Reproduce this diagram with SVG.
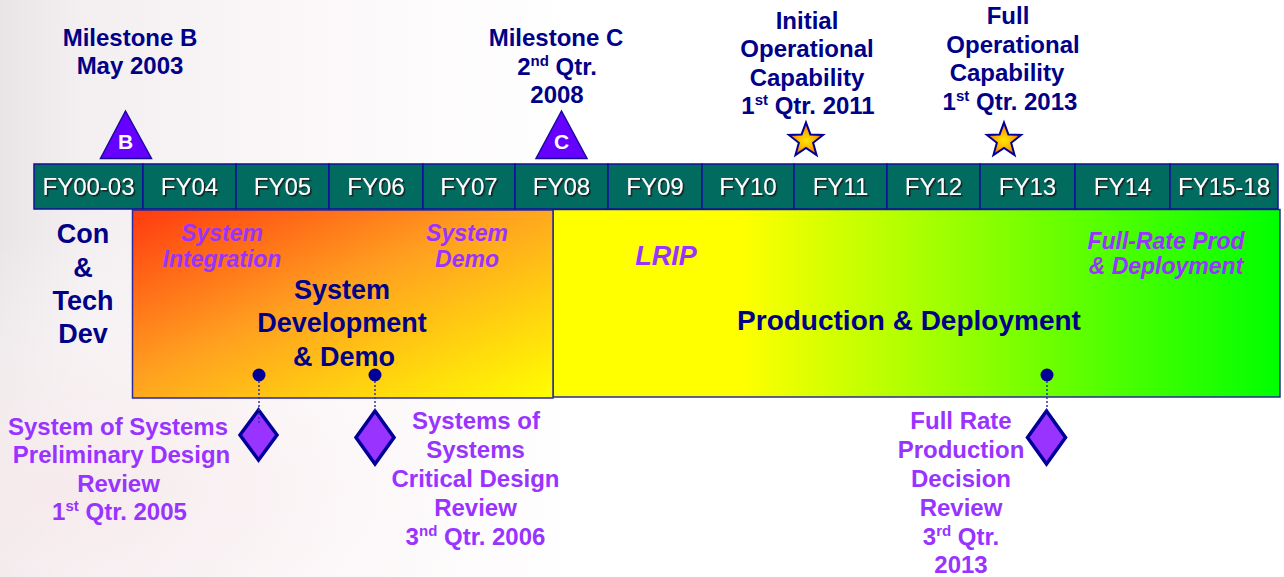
<svg xmlns="http://www.w3.org/2000/svg" width="1284" height="577" viewBox="0 0 1284 577">
<defs>
  <linearGradient id="bg" x1="0" y1="0" x2="1" y2="0">
    <stop offset="0" stop-color="#e9e5e6"/>
    <stop offset="0.06" stop-color="#f3eeef"/>
    <stop offset="0.25" stop-color="#fcf8f9"/>
    <stop offset="0.45" stop-color="#ffffff"/>
  </linearGradient>
  <radialGradient id="bgpink" cx="0.05" cy="0.85" r="0.45">
    <stop offset="0" stop-color="#f7e9ec" stop-opacity="0.9"/>
    <stop offset="1" stop-color="#ffffff" stop-opacity="0"/>
  </radialGradient>
  <linearGradient id="sdd" x1="0" y1="0" x2="1" y2="1">
    <stop offset="0" stop-color="#ff3a10"/>
    <stop offset="0.45" stop-color="#ffa020"/>
    <stop offset="1" stop-color="#ffff00"/>
  </linearGradient>
  <linearGradient id="pd" x1="0" y1="0" x2="1" y2="0">
    <stop offset="0" stop-color="#ffff00"/>
    <stop offset="0.26" stop-color="#ffff00"/>
    <stop offset="1" stop-color="#00ff00"/>
  </linearGradient>
  <radialGradient id="star" cx="0.5" cy="0.55" r="0.5">
    <stop offset="0" stop-color="#ffe800"/>
    <stop offset="0.6" stop-color="#ffaa00"/>
    <stop offset="1" stop-color="#ff5a00"/>
  </radialGradient>
  <filter id="shadow" x="-10%" y="-20%" width="130%" height="150%">
    <feDropShadow dx="1.5" dy="1.5" stdDeviation="0.4" flood-color="#1a1a1a" flood-opacity="1"/>
  </filter>
  <path id="starShape" d="M0,-18 L4.408,-6.068 L17.119,-5.562 L7.133,2.318 L10.580,14.562 L0,7.5 L-10.580,14.562 L-7.133,2.318 L-17.119,-5.562 L-4.408,-6.068 Z"/>
</defs>
<style>
  .t { font-family: "Liberation Sans", Arial, sans-serif; font-weight: bold; text-anchor: middle; }
  .navy { fill: #000088; }
  .purp { fill: #9933ff; }
  .it { font-style: italic; }
  .f24 { font-size: 24px; }
  .f23 { font-size: 23px; }
  .cell { fill: #006b5e; stroke: #10109a; stroke-width: 1.5; }
  .fy { font-family: "Liberation Sans", Arial, sans-serif; font-size: 24px; fill: #ffffff; text-anchor: middle; filter: url(#shadow); }
  .sup { font-size: 15px; }
  .tri { fill: #6600ff; stroke: #1a0aa0; stroke-width: 1.5; }
  .trit { font-family: "Liberation Sans", Arial, sans-serif; font-weight: bold; font-size: 21px; fill: #ffffff; text-anchor: middle; }
  .stat { fill: url(#star); stroke: #000099; stroke-width: 2; stroke-linejoin: miter; }
  .dia { fill: #9933ff; stroke: #000099; stroke-width: 3.5; }
  .dot { fill: #000099; }
  .dotted { stroke: #3333aa; stroke-width: 1.5; stroke-dasharray: 2 2; fill: none; }
</style>

<rect x="0" y="0" width="1284" height="577" fill="url(#bg)"/>
<rect x="0" y="0" width="1284" height="577" fill="url(#bgpink)"/>

<g id="phase-production">
  <rect x="553" y="209.5" width="727" height="187.5" fill="url(#pd)" stroke="#2a2a9a" stroke-width="1.5"/>
  <text class="t navy" x="909" y="330" font-size="28">Production &amp; Deployment</text>
  <text class="t purp it" x="666" y="265" font-size="27">LRIP</text>
  <text class="t purp it f23" x="1166" y="248.5">Full-Rate Prod</text>
  <text class="t purp it f23" x="1166" y="273.5">&amp; Deployment</text>
</g>

<g id="phase-sdd">
  <rect x="132.5" y="210" width="420.5" height="188" fill="url(#sdd)" stroke="#2a2a9a" stroke-width="1.5"/>
  <text class="t navy" x="342" y="299" font-size="27">System</text>
  <text class="t navy" x="342" y="332" font-size="27">Development</text>
  <text class="t navy" x="344" y="365.5" font-size="27">&amp; Demo</text>
  <text class="t purp it f23" x="222" y="241">System</text>
  <text class="t purp it f23" x="222" y="266.5">Integration</text>
  <text class="t purp it f23" x="467" y="241">System</text>
  <text class="t purp it f23" x="467" y="266.5">Demo</text>
</g>

<g id="phase-concept">
  <text class="t navy" x="83" y="243" font-size="27">Con</text>
  <text class="t navy" x="83" y="276.5" font-size="27">&amp;</text>
  <text class="t navy" x="83" y="310" font-size="27">Tech</text>
  <text class="t navy" x="83" y="343" font-size="27">Dev</text>
</g>

<g id="timeline">
  <rect class="cell" x="34" y="164" width="109" height="45"/>
  <rect class="cell" x="143" y="164" width="93" height="45"/>
  <rect class="cell" x="236" y="164" width="93" height="45"/>
  <rect class="cell" x="329" y="164" width="94" height="45"/>
  <rect class="cell" x="423" y="164" width="92" height="45"/>
  <rect class="cell" x="515" y="164" width="93" height="45"/>
  <rect class="cell" x="608" y="164" width="94" height="45"/>
  <rect class="cell" x="702" y="164" width="92" height="45"/>
  <rect class="cell" x="794" y="164" width="93" height="45"/>
  <rect class="cell" x="887" y="164" width="93" height="45"/>
  <rect class="cell" x="980" y="164" width="95" height="45"/>
  <rect class="cell" x="1075" y="164" width="95" height="45"/>
  <rect class="cell" x="1170" y="164" width="108" height="45"/>
  <text class="fy" x="88.5" y="195">FY00-03</text>
  <text class="fy" x="189.5" y="195">FY04</text>
  <text class="fy" x="282.5" y="195">FY05</text>
  <text class="fy" x="376" y="195">FY06</text>
  <text class="fy" x="469" y="195">FY07</text>
  <text class="fy" x="561.5" y="195">FY08</text>
  <text class="fy" x="655" y="195">FY09</text>
  <text class="fy" x="748" y="195">FY10</text>
  <text class="fy" x="840.5" y="195">FY11</text>
  <text class="fy" x="933.5" y="195">FY12</text>
  <text class="fy" x="1027.5" y="195">FY13</text>
  <text class="fy" x="1122.5" y="195">FY14</text>
  <text class="fy" x="1224" y="195">FY15-18</text>
</g>

<g id="milestone-b">
  <polygon class="tri" points="125.5,111 100.5,158.5 151.5,158.5"/>
  <text class="trit" x="125.5" y="148.5">B</text>
  <text class="t navy f24" x="130" y="45.5">Milestone B</text>
  <text class="t navy f24" x="130" y="74">May 2003</text>
</g>

<g id="milestone-c">
  <polygon class="tri" points="561.5,111 536,158.5 587,158.5"/>
  <text class="trit" x="561.5" y="148.5">C</text>
  <text class="t navy f24" x="556" y="45.5">Milestone C</text>
  <text class="t navy f24" x="557" y="74.5">2<tspan class="sup" dy="-9">nd</tspan><tspan dy="9"> Qtr.</tspan></text>
  <text class="t navy f24" x="557" y="103">2008</text>
</g>

<g id="ioc">
  <use href="#starShape" class="stat" x="806" y="140.5"/>
  <text class="t navy f24" x="807" y="28.5">Initial</text>
  <text class="t navy f24" x="807" y="57">Operational</text>
  <text class="t navy f24" x="807" y="85.5">Capability</text>
  <text class="t navy f24" x="808" y="114">1<tspan class="sup" dy="-9">st</tspan><tspan dy="9"> Qtr. 2011</tspan></text>
</g>

<g id="foc">
  <use href="#starShape" class="stat" x="1004" y="140.5"/>
  <text class="t navy f24" x="1008" y="24">Full</text>
  <text class="t navy f24" x="1013" y="52.5">Operational</text>
  <text class="t navy f24" x="1007" y="81">Capability</text>
  <text class="t navy f24" x="1010" y="110">1<tspan class="sup" dy="-9">st</tspan><tspan dy="9"> Qtr. 2013</tspan></text>
</g>

<g id="pdr">
  <circle class="dot" cx="259" cy="375" r="6.5"/>
  <polygon class="dia" points="258.5,410 277,435 258.5,460 240,435"/>
  <text class="t purp f24" x="118" y="434.5">System of Systems</text>
  <text class="t purp f24" x="121.5" y="463">Preliminary Design</text>
  <text class="t purp f24" x="118.5" y="491.5">Review</text>
  <text class="t purp f24" x="119.5" y="520">1<tspan class="sup" dy="-9">st</tspan><tspan dy="9"> Qtr. 2005</tspan></text>
</g>

<g id="cdr">
  <circle class="dot" cx="375" cy="375" r="6.5"/>
  <polygon class="dia" points="375,411 394,437.5 375,464 356,437.5"/>
  <text class="t purp f24" x="476" y="428.5">Systems of</text>
  <text class="t purp f24" x="475.5" y="457.5">Systems</text>
  <text class="t purp f24" x="475.5" y="486.5">Critical Design</text>
  <text class="t purp f24" x="475.5" y="515.5">Review</text>
  <text class="t purp f24" x="475.5" y="544.5">3<tspan class="sup" dy="-9">nd</tspan><tspan dy="9"> Qtr. 2006</tspan></text>
</g>

<g id="frpdr">
  <circle class="dot" cx="1047" cy="375" r="6.5"/>
  <polygon class="dia" points="1046.5,411 1065.5,437.5 1046.5,464 1027.5,437.5"/>
  <text class="t purp f24" x="961" y="429">Full Rate</text>
  <text class="t purp f24" x="961" y="458">Production</text>
  <text class="t purp f24" x="961" y="487">Decision</text>
  <text class="t purp f24" x="961" y="516">Review</text>
  <text class="t purp f24" x="961" y="544.5">3<tspan class="sup" dy="-9">rd</tspan><tspan dy="9"> Qtr.</tspan></text>
  <text class="t purp f24" x="961" y="573">2013</text>
</g>

<g id="connectors">
  <line class="dotted" x1="259" y1="381" x2="259" y2="424"/>
  <line class="dotted" x1="375" y1="381" x2="375" y2="410"/>
  <line class="dotted" x1="1047" y1="381" x2="1047" y2="410"/>
</g>
</svg>
